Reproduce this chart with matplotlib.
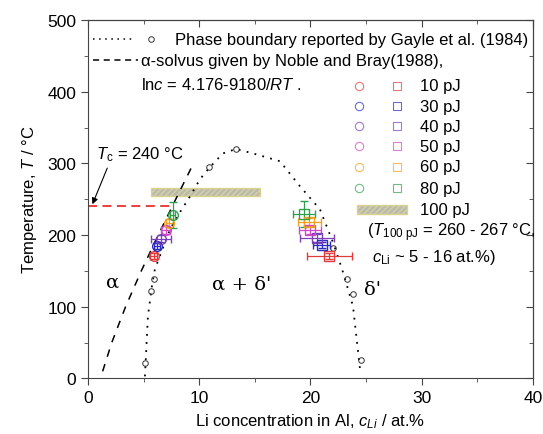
import matplotlib
matplotlib.use("Agg")
import matplotlib.pyplot as plt
from matplotlib.patches import Rectangle

plt.rcParams['font.family'] = ['Liberation Sans', 'DejaVu Sans']
plt.rcParams['mathtext.fontset'] = 'custom'
plt.rcParams['mathtext.rm'] = 'Liberation Sans'
plt.rcParams['mathtext.it'] = 'Liberation Sans:italic'
plt.rcParams['hatch.color'] = '#707070'

# energies (pJ) and colours
energies = [10, 30, 40, 50, 60, 80]
colors = ['#e03a3a', '#2b2bc0', '#7a40b8', '#d048c8', '#f0a020', '#30a050']

# alpha side (circles)
left_c = [5.9, 6.2, 6.6, 7.0, 7.3, 7.6]
left_T = [171, 185, 195, 207, 217, 228]
left_xerr = [0.3, 0.3, 0.9, 0.4, 0.3, 0.2]
left_yerr = [4, 4, 5, 5, 6, 18]

# delta' side (squares)
right_c = [21.7, 21.0, 20.6, 19.95, 19.9, 19.4]
right_T = [171, 186, 196, 207, 218, 229]
right_xerr = [2.0, 0.75, 1.5, 1.0, 1.0, 1.0]
right_yerr = [4, 4, 5, 5, 6, 18]

# Gayle et al. (1984) phase boundary
gayle_c = [5.1, 5.7, 5.9, 10.9, 13.3, 22.0, 23.3, 23.8, 24.5]
gayle_T = [22, 122, 139, 295, 320, 182, 139, 118, 26]
bound_c = [5.12, 5.39, 5.75, 6.02, 6.47, 7.37, 8.27, 9.17, 10.07, 10.97, 12.13,
           13.30, 14.83, 17.26, 19.06, 20.85, 22.02, 22.83, 23.82, 24.45]
bound_T = [3, 87, 129, 153, 171, 208, 232, 254, 278, 295, 314,
           320, 314, 303, 268, 236, 190, 153, 101, 13]

# alpha-solvus, Noble and Bray (1988)
solvus_T = [10, 50, 100, 150, 200, 250, 300]
solvus_c = [1.318, 2.137, 3.377, 4.791, 6.312, 7.888, 9.483]

# 100 pJ range
box_c = [5.7, 15.5]
box_T = [254, 266]
Tc = 240

fig = plt.figure(figsize=(5.43, 4.35), dpi=100)
ax = fig.add_axes([0.162, 0.1276, 0.8196, 0.8241])

ax.plot(bound_c, bound_T, color='black', ls=(0, (1, 3.5)), lw=1.3)
ax.plot(gayle_c, gayle_T, 'o', mfc='none', mec='#333333', ms=4, mew=0.7, ls='none')
ax.plot(solvus_c, solvus_T, color='black', ls=(0, (5, 5)), lw=1.1)

ax.add_patch(Rectangle((box_c[0], box_T[0]), box_c[1] - box_c[0], box_T[1] - box_T[0],
                       facecolor='#b8b8b8', edgecolor='#d8d490', hatch='//////', lw=1))

ax.plot([0, left_c[-1] - 0.2], [Tc, Tc], color='#e83030', ls=(0, (5, 3)), lw=1.3)

for i in range(len(energies)):
    ax.errorbar(left_c[i], left_T[i], xerr=left_xerr[i], yerr=left_yerr[i], fmt='o',
                mfc='none', mec=colors[i], ecolor=colors[i], ms=7, mew=1, elinewidth=0.9,
                capsize=3)
    ax.errorbar(right_c[i], right_T[i], xerr=right_xerr[i], yerr=right_yerr[i], fmt='s',
                mfc='none', mec=colors[i], ecolor=colors[i], ms=7, mew=1, elinewidth=0.9,
                capsize=3)

ax.annotate(r'$T_{\rm c}$ = 240 °C', xy=(0.4, 243), xytext=(0.75, 314), fontsize=12,
            va='center', ha='left',
            arrowprops=dict(arrowstyle='-|>', color='black', lw=0.8, shrinkA=2, shrinkB=0,
                            relpos=(0.15, 0.0), mutation_scale=9))

ax.text(2.2, 135, 'α', fontsize=14, ha='center', va='center', family='DejaVu Serif')
ax.text(13.8, 132, "α + δ'", fontsize=14, ha='center', va='center', family='DejaVu Serif')
ax.text(25.6, 125, "δ'", fontsize=14, ha='center', va='center', family='DejaVu Serif')

# top legend (manual)
tr = ax.transAxes
ax.plot([0.011, 0.101], [0.947, 0.947], color='black', ls=(0, (1, 3)), lw=1.1, transform=tr)
ax.plot([0.142], [0.947], 'o', mfc='none', mec='#333333', ms=4, mew=0.7, transform=tr)
ax.text(0.196, 0.947, 'Phase boundary reported by Gayle et al. (1984)', transform=tr,
        fontsize=12, va='center')
ax.plot([0.011, 0.112], [0.888, 0.888], color='black', ls=(0, (4, 3)), lw=1.1, transform=tr)
ax.text(0.119, 0.888, 'α-solvus given by Noble and Bray(1988),', transform=tr,
        fontsize=12, va='center')
ax.text(0.119, 0.821, r'ln$c$ = 4.176-9180/$RT$ .', transform=tr, fontsize=12, va='center')

# energy legend (manual)
legend_y = [0.816, 0.760, 0.704, 0.648, 0.590, 0.531]
for i in range(len(energies)):
    ax.plot([0.609], [legend_y[i]], 'o', mfc='none', mec=colors[i], ms=6, mew=0.8, alpha=0.7,
            transform=tr)
    ax.plot([0.694], [legend_y[i]], 's', mfc='none', mec=colors[i], ms=6, mew=0.8, alpha=0.7,
            transform=tr)
    ax.text(0.746, legend_y[i], f'{energies[i]} pJ', transform=tr, fontsize=12, va='center')
ax.add_patch(Rectangle((0.604, 0.459), 0.113, 0.024, transform=tr, facecolor='#b8b8b8',
                       edgecolor='#d8d490', hatch='//////', lw=1))
ax.text(0.746, 0.471, '100 pJ', transform=tr, fontsize=12, va='center')
ax.text(0.627, 0.409, r'($T_{\rm 100\ pJ}$ = 260 - 267 °C,', transform=tr, fontsize=12,
        va='center')
ax.text(0.638, 0.339, r'$c_{\rm Li}$ ~ 5 - 16 at.%)', transform=tr, fontsize=12, va='center')

ax.set_xlim(0, 40)
ax.set_ylim(0, 500)
ax.set_xticks([0, 10, 20, 30, 40])
ax.set_xticks([5, 15, 25, 35], minor=True)
ax.set_yticks([0, 100, 200, 300, 400, 500])
ax.set_yticks([50, 150, 250, 350, 450], minor=True)
ax.tick_params(which='both', direction='out', top=False, right=False, labelsize=12.5,
               color='#444444')
ax.tick_params(which='major', length=5)
ax.tick_params(which='minor', length=3)
axt = ax.secondary_xaxis('top')
axt.set_xticks([0, 10, 20, 30, 40])
axt.set_xticks([5, 15, 25, 35], minor=True)
axt.tick_params(which='both', direction='in', labeltop=False, color='#444444')
axt.tick_params(which='major', length=5)
axt.tick_params(which='minor', length=3)
axr = ax.secondary_yaxis('right')
axr.set_yticks([0, 100, 200, 300, 400, 500])
axr.set_yticks([50, 150, 250, 350, 450], minor=True)
axr.tick_params(which='both', direction='in', labelright=False, color='#444444')
axr.tick_params(which='major', length=5)
axr.tick_params(which='minor', length=3)
for s in ax.spines.values():
    s.set_color('#444444')

ax.set_xlabel(r'Li concentration in Al, $c_{Li}$ / at.%', fontsize=12, labelpad=4)
ax.set_ylabel(r'Temperature, $T$ / °C', fontsize=12, labelpad=6)

fig.savefig('out.png', dpi=100)
